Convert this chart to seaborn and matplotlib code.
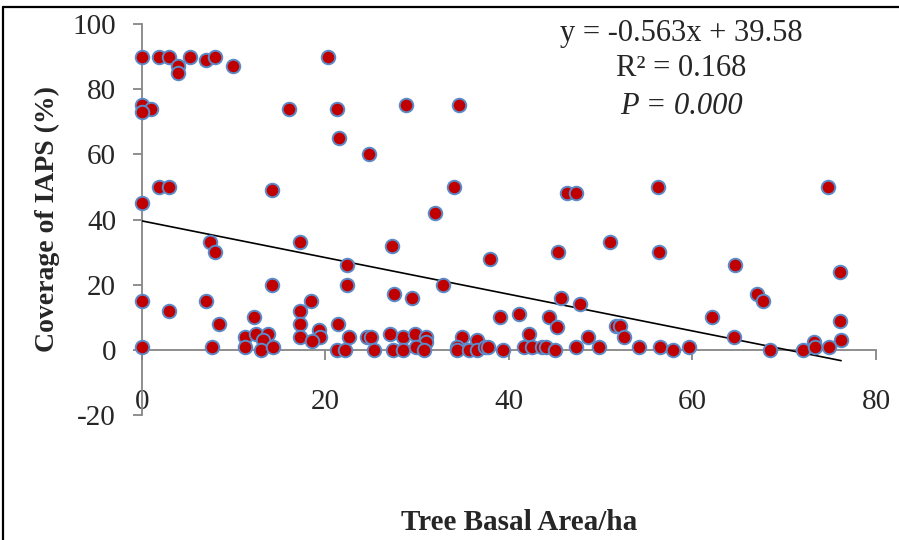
import matplotlib
matplotlib.use("Agg")
import matplotlib.pyplot as plt
from matplotlib.lines import Line2D
import seaborn as sns
import pandas as pd
import numpy as np

# ---- data ----
basal_area = [
    0, 1.9, 3.0, 4.0, 4.0, 5.3, 7.0, 8.0, 10.0, 20.3,
    0, 1.0, 0, 16.0, 21.3, 21.5, 28.8, 34.6, 24.8,
    1.9, 3.0, 14.2, 0, 34.0, 46.3, 47.3, 56.2, 74.8,
    31.9,
    7.45, 8.0, 17.3, 27.3, 51.0, 45.4, 56.4,
    37.9, 22.4, 64.6, 76.1,
    22.4, 14.2, 32.8,
    27.5, 29.5, 45.7, 47.8, 67.0, 67.7,
    0, 7.0, 18.4, 3.0, 17.3,
    8.4, 12.2, 17.3, 21.4, 39.0, 41.1, 44.4, 62.1, 76.1,
    45.3, 51.7, 52.1,
    19.3, 11.2, 12.5, 13.8, 13.2, 17.3, 19.4, 18.6, 22.6, 24.5, 25.0, 27.1,
    28.5, 29.8, 31.0, 31.0, 34.9, 36.5, 42.2, 48.6, 52.5, 64.5, 73.2, 76.2,
    0, 7.7, 11.2, 13.0, 14.3, 21.3, 22.2, 25.3, 27.4, 28.5, 29.9, 30.8,
    34.3, 34.3, 35.7, 36.5, 37.4, 37.7, 39.4, 41.6, 42.5, 43.6, 44.0, 45.0,
    47.3, 49.8, 54.2, 56.5, 57.9, 59.6, 68.4, 72.0, 73.4, 74.9,
]
coverage = [
    90, 90, 90, 87, 85, 90, 89, 90, 87, 90,
    75, 74, 73, 74, 74, 65, 75, 75, 60,
    50, 50, 49, 45, 50, 48, 48, 50, 50,
    42,
    33, 30, 33, 32, 33, 30, 30,
    28, 26, 26, 24,
    20, 20, 20,
    17, 16, 16, 14, 17, 15,
    15, 15, 15, 12, 12,
    8, 10, 8, 8, 10, 11, 10, 10, 9,
    7, 7.2, 7.2,
    6, 4, 5, 5, 3, 4, 4, 2.8, 4, 4, 4, 5,
    4, 5, 4, 2.3, 4, 3, 5, 4, 4, 4, 2.4, 3,
    1, 1, 1, 0, 1, 0, 0, 0, 0, 0, 1, 0,
    1, 0, 0, 0, 1, 1, 0, 1, 1, 1, 1, 0,
    1, 1, 1, 1, 0, 1, 0, 0, 1, 1,
]
slope = -0.563
intercept = 39.58
x_ticks = [0, 20, 40, 60, 80]
y_ticks = [-20, 0, 20, 40, 60, 80, 100]
eq_lines = ["y = -0.563x + 39.58", "R\u00b2 = 0.168", "P = 0.000"]
x_title = "Tree Basal Area/ha"
y_title = "Coverage of IAPS (%)"

df = pd.DataFrame({"x": basal_area, "y": coverage})

sns.set_style("white")
plt.rcParams["font.family"] = ["Liberation Serif", "DejaVu Serif"]
plt.rcParams["axes.unicode_minus"] = False

W, H = 899, 540
fig = plt.figure(figsize=(W / 100, H / 100), dpi=100)
ax = fig.add_axes([141.7 / W, (H - 415) / H, 734.3 / W, 391 / H])

gray = "#868686"

# regression line
xl = np.array([0, max(basal_area)])
ax.plot(xl, slope * xl + intercept, color="black", lw=1.2, zorder=2)

sns.scatterplot(data=df, x="x", y="y", ax=ax, s=95, color="#C00000",
                edgecolor="#5B8BC9", linewidth=1.4, zorder=3, clip_on=False,
                legend=False)

ax.set_xlim(0, 80)
ax.set_ylim(-20, 100)
ax.set_xticks(x_ticks)
ax.set_yticks(y_ticks)

for s in ["top", "right"]:
    ax.spines[s].set_visible(False)
ax.spines["left"].set_color(gray)
ax.spines["bottom"].set_color(gray)
ax.spines["left"].set_linewidth(1.3)
ax.spines["bottom"].set_linewidth(1.3)
ax.spines["bottom"].set_position(("data", 0))
ax.spines["left"].set_zorder(1)
ax.spines["bottom"].set_zorder(1)

ax.tick_params(axis="y", direction="out", length=6.5, width=1.3, color=gray,
               pad=12, labelsize=21, left=True)
ax.tick_params(axis="x", direction="out", length=7, width=1.3, color=gray,
               pad=21, labelsize=21, bottom=True)

ax.set_xlabel(x_title, fontsize=21, fontweight="bold")
ax.set_ylabel(y_title, fontsize=20, fontweight="bold")
ax.xaxis.set_label_coords(0.514, -0.274)
ax.xaxis.label.set_va("center")
ax.yaxis.set_label_coords(-0.128, 0.5)
ax.yaxis.label.set_va("center")

# equation text
ys = [34, 69, 106]
for i, (txt, yp) in enumerate(zip(eq_lines, ys)):
    fig.text(681 / W, 1 - yp / H, txt, fontsize=22, ha="center", va="center",
             fontstyle="italic" if i == 2 else "normal")

# outer frame (left and top edges visible in reference)
fig.add_artist(Line2D([2.5 / W, 2.5 / W], [0, 1 - 6.5 / H], color="black",
                      lw=1.6, transform=fig.transFigure))
fig.add_artist(Line2D([2.5 / W, 1], [1 - 6.5 / H, 1 - 6.5 / H], color="black",
                      lw=1.6, transform=fig.transFigure))

fig.savefig("out.png", dpi=100)
